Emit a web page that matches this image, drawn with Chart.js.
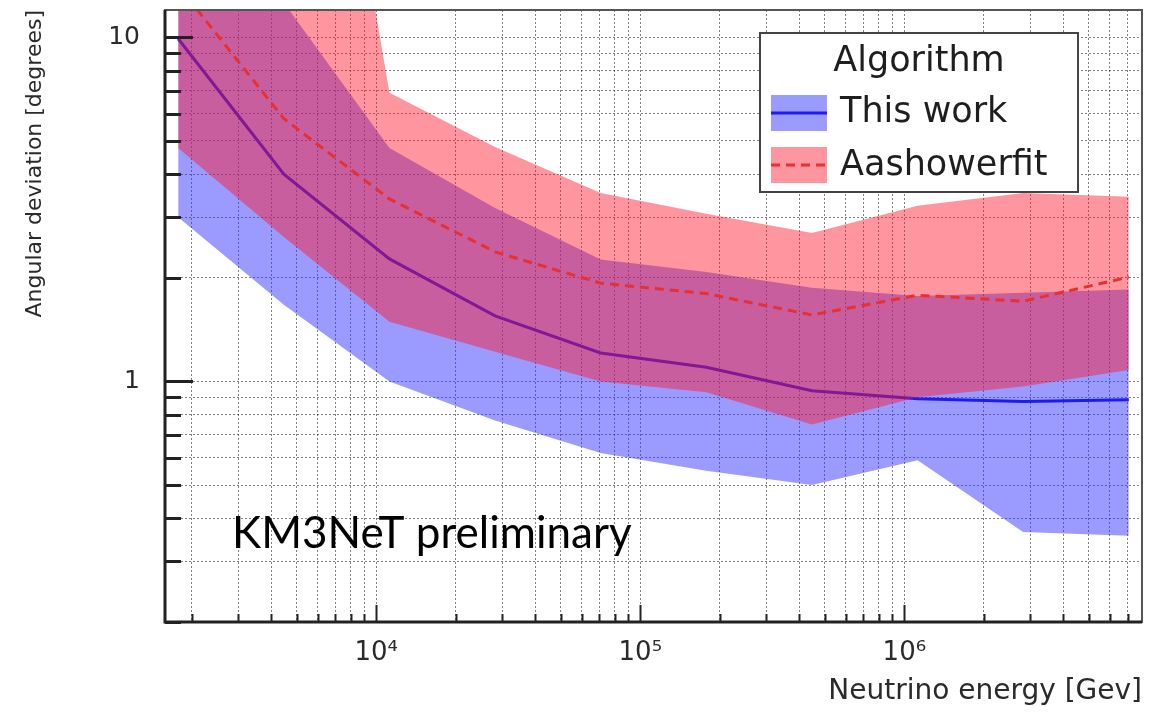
<!DOCTYPE html>
<html>
<head>
<meta charset="utf-8">
<script src="https://cdn.jsdelivr.net/npm/chart.js@4.4.1/dist/chart.umd.min.js"></script>
<style>
  html, body { margin: 0; padding: 0; background: #ffffff; }
  #wrap { width: 1160px; height: 718px; }
</style>
</head>
<body>
<div id="wrap"><canvas id="c" width="1160" height="718"></canvas></div>
<script>
// ---------------- data ----------------
const energyGeV      = [1778, 4467, 11220, 28180, 70790, 177800, 446700, 1122000, 2818000, 7079000];
const thisWorkMedian = [9.9, 4.0, 2.27, 1.55, 1.21, 1.10, 0.94, 0.89, 0.875, 0.885];
const thisWorkLow    = [3.0, 1.67, 1.0, 0.77, 0.62, 0.55, 0.50, 0.59, 0.365, 0.356];
const thisWorkHigh   = [30, 12.6, 4.77, 3.19, 2.26, 2.08, 1.87, 1.77, 1.81, 1.85];
const aashowerMedian = [14.1, 5.8, 3.39, 2.38, 1.93, 1.80, 1.56, 1.78, 1.71, 2.01];
const aashowerLow    = [4.77, 2.63, 1.49, 1.22, 1.0, 0.93, 0.75, 0.90, 0.967, 1.08];
const aashowerHigh   = [600, 440, 6.9, 4.8, 3.53, 3.07, 2.70, 3.24, 3.53, 3.44];

const xMajorTicks = [1e4, 1e5, 1e6];
const xTickLabels = ['10\u2074', '10\u2075', '10\u2076'];
const yMajorTicks = [1, 10];
const yTickLabels = ['1', '10'];
const minorMultipliers = [2, 3, 4, 5, 6, 7, 8, 9];

const seriesNames = ['This work', 'Aashowerfit'];
const legendTitle = 'Algorithm';
const xTitle = 'Neutrino energy [Gev]';
const yTitle = 'Angular deviation [degrees]';
const watermark = 'KM3NeT preliminary';

const X_MIN = Math.pow(10, 3.2), X_MAX = Math.pow(10, 6.9);
const Y_MIN = 0.2, Y_MAX = 12;

// ---------------- styles ----------------
const BLUE_BAND = 'rgba(50,50,255,0.49)';
const RED_BAND = 'rgba(255,20,40,0.45)';
const BLUE_LINE = '#1c1cf0';
const RED_LINE = '#e83030';
const GRID = 'rgba(40,40,40,0.6)';
const TXT = '#2a2a2a';

Chart.defaults.font.family = "'DejaVu Sans', 'Liberation Sans', sans-serif";

const pts = (ys) => energyGeV.map((e, i) => ({ x: e, y: ys[i] }));
const isIn = (v, list) => list.some(m => Math.abs(v - m) / m < 1e-6);

function logTicks(min, max) {
  const out = [];
  const e0 = Math.floor(Math.log10(min)), e1 = Math.ceil(Math.log10(max));
  for (let e = e0; e <= e1; e++) {
    for (const m of [1].concat(minorMultipliers)) {
      const v = m * Math.pow(10, e);
      if (v >= min * 0.9999 && v <= max * 1.0001) out.push({ value: v });
    }
  }
  return out;
}

const frameTicks = {
  id: 'frameTicks',
  afterDatasetsDraw(chart) {
    const { ctx, chartArea: a, scales: { x, y } } = chart;
    ctx.save();
    ctx.strokeStyle = '#222';
    ctx.lineWidth = 2;
    x.ticks.forEach(t => {
      const px = Math.round(x.getPixelForValue(t.value)) + 0.5;
      const len = isIn(t.value, xMajorTicks) ? 17 : 8;
      ctx.beginPath(); ctx.moveTo(px, a.bottom); ctx.lineTo(px, a.bottom - len); ctx.stroke();
    });
    ctx.lineWidth = 3;
    y.ticks.forEach(t => {
      const py = Math.round(y.getPixelForValue(t.value)) + 0.5;
      const len = isIn(t.value, yMajorTicks) ? 28 : 16;
      ctx.beginPath(); ctx.moveTo(a.left, py); ctx.lineTo(a.left + len, py); ctx.stroke();
    });
    // frame
    ctx.lineWidth = 2; ctx.strokeStyle = '#555';
    ctx.strokeRect(a.left, a.top, a.right - a.left, a.bottom - a.top);
    ctx.lineWidth = 3; ctx.strokeStyle = '#222';
    ctx.beginPath();
    ctx.moveTo(a.left, a.top); ctx.lineTo(a.left, a.bottom); ctx.lineTo(a.right, a.bottom);
    ctx.stroke();
    ctx.restore();
  }
};

const boxLegend = {
  id: 'boxLegend',
  afterDraw(chart) {
    const { ctx } = chart;
    const ds = chart.data.datasets;
    const bx = 760, by = 33, bw = 318, bh = 159;
    ctx.save();
    ctx.fillStyle = '#fff';
    ctx.fillRect(bx, by, bw, bh);
    ctx.lineWidth = 2; ctx.strokeStyle = '#444';
    ctx.strokeRect(bx, by, bw, bh);
    ctx.font = "35px 'DejaVu Sans'";
    ctx.fillStyle = '#1e1e1e';
    ctx.textBaseline = 'alphabetic';
    ctx.textAlign = 'center';
    ctx.fillText(legendTitle, bx + bw / 2, 71);
    ctx.textAlign = 'left';
    const entries = [
      { med: ds[3], band: ds[4], y: 95, base: 122 },
      { med: ds[0], band: ds[1], y: 147, base: 175 }
    ];
    entries.forEach(en => {
      ctx.fillStyle = en.band.backgroundColor;
      ctx.fillRect(771, en.y, 56, 36);
      ctx.strokeStyle = en.med.borderColor;
      ctx.lineWidth = 3;
      ctx.setLineDash(en.med.borderDash || []);
      ctx.beginPath(); ctx.moveTo(771, en.y + 18); ctx.lineTo(827, en.y + 18); ctx.stroke();
      ctx.setLineDash([]);
      ctx.fillStyle = '#1e1e1e';
      ctx.fillText(en.med.label, 840, en.base);
    });
    // watermark text
    let size = 42;
    ctx.font = size + "px Lato";
    const w = ctx.measureText(watermark).width;
    size = size * 400 / w;
    ctx.font = size.toFixed(1) + "px Lato";
    ctx.fillStyle = '#000';
    ctx.fillText(watermark, chart.chartArea.left + 67, 548);
    ctx.restore();
  }
};

new Chart(document.getElementById('c'), {
  type: 'line',
  data: {
    datasets: [
      { label: seriesNames[1], data: pts(aashowerMedian), borderColor: RED_LINE, borderWidth: 3,
        borderDash: [9, 6], pointRadius: 0, fill: false, order: 1 },
      { label: seriesNames[1] + ' band', data: pts(aashowerHigh), borderColor: 'rgba(0,0,0,0)', borderWidth: 0,
        pointRadius: 0, backgroundColor: RED_BAND, fill: { target: 2 }, order: 2 },
      { label: seriesNames[1] + ' low', data: pts(aashowerLow), borderColor: 'rgba(0,0,0,0)', borderWidth: 0,
        pointRadius: 0, fill: false, order: 3 },
      { label: seriesNames[0], data: pts(thisWorkMedian), borderColor: BLUE_LINE, borderWidth: 3,
        pointRadius: 0, fill: false, order: 4 },
      { label: seriesNames[0] + ' band', data: pts(thisWorkHigh), borderColor: 'rgba(0,0,0,0)', borderWidth: 0,
        pointRadius: 0, backgroundColor: BLUE_BAND, fill: { target: 5 }, order: 5 },
      { label: seriesNames[0] + ' low', data: pts(thisWorkLow), borderColor: 'rgba(0,0,0,0)', borderWidth: 0,
        pointRadius: 0, fill: false, order: 6 }
    ]
  },
  options: {
    responsive: false,
    animation: false,
    devicePixelRatio: 1,
    layout: { padding: { top: 10, right: 18, left: 0, bottom: 0 } },
    plugins: { legend: { display: false }, tooltip: { enabled: false } },
    scales: {
      x: {
        type: 'logarithmic', min: X_MIN, max: X_MAX,
        afterBuildTicks: (s) => { s.ticks = logTicks(X_MIN, X_MAX); },
        afterFit: (s) => { s.height = 96; s.paddingLeft = 0; s.paddingRight = 0; },
        grid: { color: GRID, lineWidth: 1, drawTicks: false },
        border: { display: false, dash: [2, 2] },
        ticks: {
          autoSkip: false, maxRotation: 0, padding: 16, color: TXT,
          font: { size: 26 },
          callback: (v) => { const i = xMajorTicks.findIndex(m => Math.abs(v - m) / m < 1e-6); return i >= 0 ? xTickLabels[i] : ''; }
        },
        title: { display: true, text: xTitle, align: 'end', color: TXT, font: { size: 28 }, padding: { top: 0, bottom: 9 } }
      },
      y: {
        type: 'logarithmic', min: Y_MIN, max: Y_MAX,
        afterBuildTicks: (s) => { s.ticks = logTicks(Y_MIN, Y_MAX); },
        afterFit: (s) => { s.width = 165; s.paddingTop = 0; s.paddingBottom = 0; },
        grid: { color: GRID, lineWidth: 1, drawTicks: false },
        border: { display: false, dash: [2, 2] },
        ticks: {
          autoSkip: false, padding: 25, color: TXT,
          font: { size: 25 },
          callback: (v) => { const i = yMajorTicks.findIndex(m => Math.abs(v - m) / m < 1e-6); return i >= 0 ? yTickLabels[i] : ''; }
        },
        title: { display: true, text: yTitle, align: 'end', color: TXT, font: { size: 22 }, padding: { top: 22, bottom: 0 } }
      }
    }
  },
  plugins: [frameTicks, boxLegend]
});
</script>
</body>
</html>
